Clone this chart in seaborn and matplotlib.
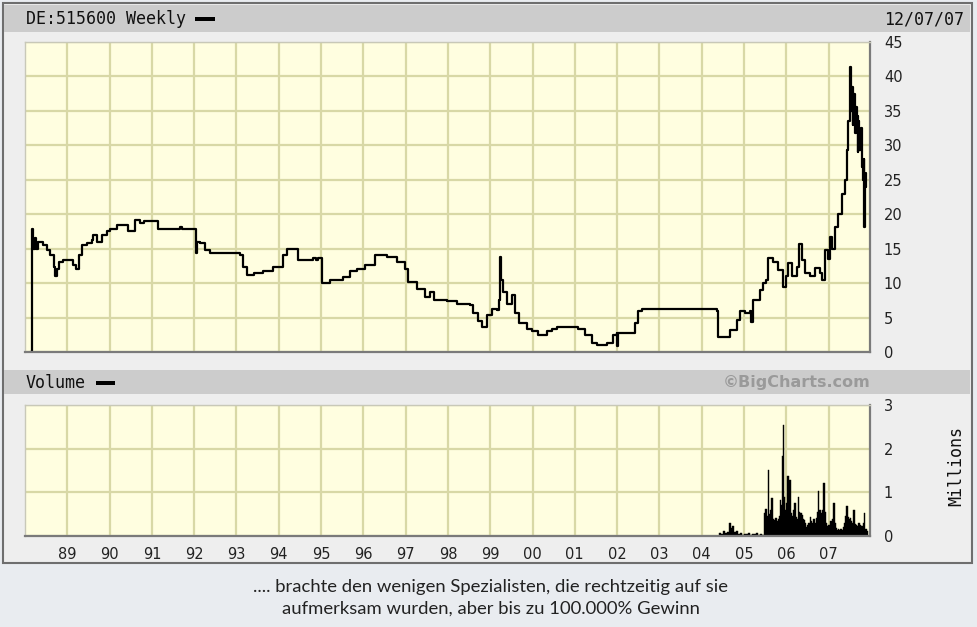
import matplotlib
matplotlib.use("Agg")
import matplotlib.pyplot as plt
from matplotlib.patches import Rectangle
import seaborn as sns

# ---------------- data ----------------
price_years = [1988.125, 1988.166, 1988.184, 1988.244, 1988.267, 1988.314, 1988.433, 1988.520,
               1988.598, 1988.676, 1988.716, 1988.752, 1988.794, 1988.905, 1989.071, 1989.142,
               1989.213, 1989.267, 1989.348, 1989.466, 1989.584, 1989.615, 1989.702, 1989.820,
               1989.939, 1990.017, 1990.175, 1990.411, 1990.442, 1990.560, 1990.608, 1990.726,
               1990.804, 1991.121, 1991.139, 1991.671, 1991.719, 1992.026, 1992.038, 1992.050,
               1992.073, 1992.144, 1992.262, 1992.381, 1992.853, 1993.090, 1993.161, 1993.248,
               1993.404, 1993.633, 1993.870, 1994.106, 1994.194, 1994.430, 1994.449, 1994.815,
               1994.886, 1994.934, 1995.021, 1995.217, 1995.525, 1995.690, 1995.849, 1996.045,
               1996.281, 1996.558, 1996.794, 1996.990, 1997.061, 1997.267, 1997.463, 1997.581,
               1997.659, 1997.976, 1998.212, 1998.527, 1998.598, 1998.716, 1998.803, 1998.922,
               1999.040, 1999.158, 1999.212, 1999.236, 1999.260, 1999.307, 1999.394, 1999.513,
               1999.591, 1999.669, 1999.867, 1999.993, 2000.141, 2000.340, 2000.465, 2000.576,
               2000.813, 2000.891, 2001.087, 2001.246, 2001.404, 2001.522, 2001.758, 2001.914,
               2001.995, 2002.002, 2002.014, 2002.349, 2002.427, 2002.506, 2002.586, 2004.359,
               2004.378, 2004.595, 2004.673, 2004.832, 2004.910, 2005.028, 2005.146, 2005.170,
               2005.224, 2005.383, 2005.461, 2005.524, 2005.579, 2005.697, 2005.815, 2005.933,
               2005.997, 2006.052, 2006.132, 2006.250, 2006.312, 2006.368, 2006.446, 2006.565,
               2006.683, 2006.801, 2006.841, 2006.919, 2006.990, 2007.037, 2007.085, 2007.156,
               2007.234, 2007.314, 2007.392, 2007.432, 2007.470, 2007.510, 2007.527, 2007.550,
               2007.569, 2007.588, 2007.628, 2007.652, 2007.668, 2007.687, 2007.706, 2007.730,
               2007.758, 2007.787, 2007.806, 2007.829, 2007.841, 2007.858, 2007.888]
price_values = [0.0, 17.8, 15.0, 16.5, 15.0, 16.0, 15.6, 14.8,
                14.1, 12.4, 11.0, 12.0, 13.1, 13.4, 13.3, 12.6,
                12.1, 14.1, 15.5, 15.8, 16.3, 17.0, 16.0, 17.0,
                17.5, 17.8, 18.4, 18.4, 17.5, 17.5, 19.1, 18.7,
                19.0, 19.0, 17.8, 18.2, 17.8, 17.8, 16.0, 14.3,
                16.0, 15.8, 14.8, 14.4, 14.3, 14.1, 12.4, 11.2,
                11.4, 11.8, 12.4, 14.1, 15.0, 14.9, 13.4, 13.6,
                13.3, 13.6, 10.0, 10.5, 10.9, 11.7, 12.1, 12.6,
                14.1, 13.8, 13.1, 12.1, 10.2, 9.2, 8.0, 8.7,
                7.5, 7.4, 7.0, 6.8, 5.6, 4.5, 3.7, 5.4,
                6.3, 6.1, 7.5, 13.8, 10.5, 8.7, 7.0, 8.3,
                5.6, 4.2, 3.4, 3.0, 2.5, 3.0, 3.4, 3.7,
                3.7, 3.7, 3.3, 2.5, 1.3, 1.0, 1.3, 2.5,
                2.7, 0.8, 2.7, 2.8, 4.2, 5.9, 6.2, 5.9,
                2.2, 2.2, 3.2, 4.6, 5.9, 5.6, 5.9, 4.4,
                7.5, 9.0, 10.0, 10.5, 13.6, 13.1, 11.9, 9.5,
                11.0, 12.9, 11.0, 12.4, 15.7, 13.4, 11.5, 11.0,
                12.2, 11.5, 10.5, 14.8, 13.5, 16.7, 15.0, 18.2,
                20.1, 23.0, 24.9, 29.3, 33.6, 41.4, 35.0, 38.5,
                33.0, 37.5, 31.8, 35.5, 34.2, 29.0, 33.5, 29.3,
                32.5, 26.9, 25.0, 28.0, 18.2, 24.0, 26.0]

volume_years = [2004.438, 2004.485, 2004.532, 2004.579, 2004.627, 2004.662, 2004.698, 2004.745,
                2004.792, 2004.839, 2004.887, 2004.934, 2004.981, 2005.029, 2005.076, 2005.123,
                2005.170, 2005.218, 2005.265, 2005.312, 2005.360, 2005.407, 2005.454, 2005.485,
                2005.513, 2005.544, 2005.579, 2005.610, 2005.634, 2005.660, 2005.691, 2005.721,
                2005.752, 2005.783, 2005.814, 2005.837, 2005.861, 2005.884, 2005.908, 2005.934,
                2005.960, 2005.988, 2006.014, 2006.038, 2006.064, 2006.088, 2006.116, 2006.144,
                2006.173, 2006.201, 2006.229, 2006.258, 2006.286, 2006.314, 2006.343, 2006.371,
                2006.400, 2006.428, 2006.456, 2006.485, 2006.513, 2006.542, 2006.570, 2006.598,
                2006.627, 2006.655, 2006.683, 2006.712, 2006.740, 2006.764, 2006.792, 2006.821,
                2006.849, 2006.873, 2006.899, 2006.925, 2006.953, 2006.981, 2007.010, 2007.038,
                2007.066, 2007.095, 2007.123, 2007.151, 2007.180, 2007.208, 2007.237, 2007.265,
                2007.293, 2007.322, 2007.350, 2007.378, 2007.407, 2007.433, 2007.459, 2007.487,
                2007.516, 2007.544, 2007.572, 2007.601, 2007.629, 2007.657, 2007.686, 2007.714,
                2007.742, 2007.771, 2007.799, 2007.827, 2007.851, 2007.880, 2007.908]
volume_millions = [0.08, 0.05, 0.12, 0.06, 0.10, 0.29, 0.18, 0.22,
                   0.10, 0.12, 0.04, 0.06, 0.03, 0.05, 0.04, 0.06,
                   0.03, 0.05, 0.04, 0.06, 0.03, 0.04, 0.03, 0.52,
                   0.62, 0.45, 1.52, 0.50, 0.60, 0.86, 0.40, 0.36,
                   0.42, 0.35, 0.38, 0.45, 0.82, 0.70, 1.83, 2.54,
                   0.90, 0.60, 0.75, 1.37, 1.00, 1.29, 0.52, 0.45,
                   0.60, 0.75, 0.44, 0.38, 0.90, 0.55, 0.52, 0.48,
                   0.40, 0.36, 0.30, 0.21, 0.25, 0.30, 0.44, 0.35,
                   0.30, 0.40, 0.30, 0.42, 0.55, 1.02, 0.60, 0.52,
                   0.45, 0.60, 1.21, 0.55, 0.29, 0.22, 0.25, 0.20,
                   0.35, 0.40, 0.75, 0.29, 0.18, 0.13, 0.15, 0.14,
                   0.16, 0.13, 0.20, 0.30, 0.45, 0.68, 0.44, 0.38,
                   0.42, 0.35, 0.30, 0.60, 0.28, 0.25, 0.22, 0.30,
                   0.25, 0.20, 0.22, 0.30, 0.52, 0.15, 0.12]

year_ticks = list(range(1989, 2008))
year_labels = ["89", "90", "91", "92", "93", "94", "95", "96", "97", "98",
               "99", "00", "01", "02", "03", "04", "05", "06", "07"]
price_ticks = [0, 5, 10, 15, 20, 25, 30, 35, 40, 45]
volume_ticks = [0, 1, 2, 3]

title_text = "DE:515600 Weekly"
date_text = "12/07/07"
volume_text = "Volume"
credit_text = "\u00a9BigCharts.com"
units_text = "Millions"
caption_lines = [".... brachte den wenigen Spezialisten, die rechtzeitig auf sie",
                 "aufmerksam wurden, aber bis zu 100.000% Gewinn"]

# ---------------- styling ----------------
sns.set_style("white")
W, H = 978, 627
fig = plt.figure(figsize=(W / 100, H / 100), dpi=100)
fig.patch.set_facecolor("#e9ecf0")


def fx(x):
    return x / W


def fy(y):
    return 1 - y / H


def frect(x0, y0, x1, y1, z=-5, **kw):
    fig.patches.append(Rectangle((fx(x0), fy(y1)), (x1 - x0) / W, (y1 - y0) / H,
                                 transform=fig.transFigure, zorder=z, **kw))


# chart panel + header bars (behind the axes)
frect(3, 3, 972, 563, z=-10, facecolor="#eeeeee", edgecolor="#6e6e6e", lw=1.5)
frect(4, 5, 970, 32, z=-9, facecolor="#cccccc", edgecolor="none")
frect(4, 370, 970, 394, z=-9, facecolor="#cccccc", edgecolor="none")

PLOT_BG = "#fffee0"
GRID = "#d8d8a6"
mono = "DejaVu Sans Mono"


def style_axes(ax):
    ax.set_facecolor(PLOT_BG)
    ax.grid(True, color=GRID, lw=1.6)
    ax.set_axisbelow(True)
    for s in ("left", "top"):
        ax.spines[s].set_color("#c8c8b8")
        ax.spines[s].set_linewidth(1.0)
    for s in ("right", "bottom"):
        ax.spines[s].set_color("#7a7a7a")
        ax.spines[s].set_linewidth(1.6)
    ax.yaxis.tick_right()
    ax.tick_params(axis="both", length=0, labelsize=10.5, colors="#222222", pad=10)
    ax.set_xlim(1988.0, 2007.98)
    ax.set_xticks(year_ticks)


# price panel
ax1 = fig.add_axes([fx(25), fy(352), (870 - 25) / W, (352 - 42) / H])
style_axes(ax1)
sns.lineplot(x=price_years, y=price_values, ax=ax1, color="black", lw=1.6,
             drawstyle="steps-post", estimator=None, sort=False)
ax1.set_ylim(0, 45)
ax1.set_yticks(price_ticks)
ax1.set_yticklabels([str(t) for t in price_ticks])
ax1.set_xticklabels([])
ax1.set_xlabel("")
ax1.set_ylabel("")

# volume panel
ax2 = fig.add_axes([fx(25), fy(536), (870 - 25) / W, (536 - 405) / H])
style_axes(ax2)
ax2.bar(volume_years, volume_millions, width=0.04, color="black", align="center",
        edgecolor="black", lw=0.3)
ax2.set_ylim(0, 3)
ax2.set_yticks(volume_ticks)
ax2.set_yticklabels([str(t) for t in volume_ticks])
ax2.set_xticklabels(year_labels)
ax2.tick_params(axis="x", pad=8)

# header texts
fig.text(fx(26), fy(19), title_text, family=mono, fontsize=12, va="center", ha="left", color="#111111")
frect(195, 17, 215, 21, z=5, facecolor="black", edgecolor="none")
fig.text(fx(964), fy(19), date_text, family=mono, fontsize=12, va="center", ha="right", color="#111111")
fig.text(fx(26), fy(383), volume_text, family=mono, fontsize=12, va="center", ha="left", color="#111111")
frect(96, 381, 115, 385, z=5, facecolor="black", edgecolor="none")
fig.text(fx(871), fy(382), credit_text, family="DejaVu Sans", fontweight="bold", fontsize=11.5,
         va="center", ha="right", color="#9a9a9a")
fig.text(fx(956), fy(466), units_text, family=mono, fontsize=12, rotation=90,
         va="center", ha="center", color="#111111")

# caption
fig.text(fx(491), fy(587), caption_lines[0], family="Lato", fontsize=13.3, ha="center", va="center", color="#222222")
fig.text(fx(491), fy(609), caption_lines[1], family="Lato", fontsize=13.3, ha="center", va="center", color="#222222")

fig.savefig("out.png", dpi=100, facecolor=fig.get_facecolor())
